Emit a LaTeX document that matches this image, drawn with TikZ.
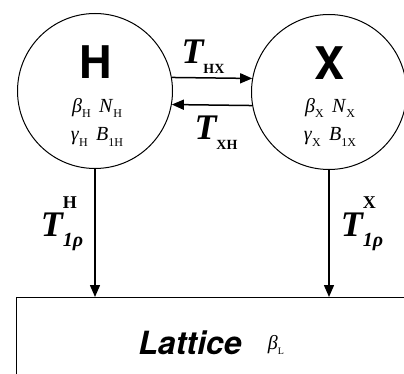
\documentclass[tikz,border=0pt]{standalone}
\usepackage{fontspec}
\setmainfont{Liberation Serif}
\newfontfamily\hvfont{TeX Gyre Heros}
\usetikzlibrary{arrows.meta}
% small lowered / raised index text
\newcommand{\lowix}[2][12]{\raisebox{-0.28em}{\fontsize{#1}{#1}\selectfont #2}}
\newcommand{\highix}[2][12]{\raisebox{0.78em}{\fontsize{#1}{#1}\selectfont #2}}

\begin{document}
\begin{tikzpicture}[x=1pt,y=-1pt,
    spin/.style={circle, draw, line width=1pt, minimum size=155pt, inner sep=0pt},
    flow/.style={line width=1.5pt, -{Triangle[length=12pt,width=10pt]}},
    bigsym/.style={font=\hvfont\bfseries\fontsize{45}{45}\selectfont},
    par/.style={font=\fontsize{20}{20}\selectfont},
    rate/.style={font=\bfseries\itshape\fontsize{36}{36}\selectfont}]
  \useasboundingbox (0,0) rectangle (404,374);
  \node[spin] (H) at (95,91) {};
  \node[spin] (X) at (329,92) {};
  \node[anchor=north west, draw, line width=1pt, minimum width=420pt,
        minimum height=120pt] (lat) at (16,297) {};
  % inside the spheres
  \node[bigsym] (Hsym) at (96,62) {H};
  \node[bigsym] (Xsym) at (330,63) {X};
  \node[par] (Hpar1) at (97,108) {\textit{β}\lowix{H}\, \textit{N}\lowix{H}};
  \node[par] (Hpar2) at (97,137) {\textit{γ}\lowix{H}\, \textit{B}\lowix{1H}};
  \node[par] (Xpar1) at (330,108) {\textit{β}\lowix{X}\, \textit{N}\lowix{X}};
  \node[par] (Xpar2) at (330,137) {\textit{γ}\lowix{X}\, \textit{B}\lowix{1X}};
  % exchange
  \draw[flow] (H.10) -- (X.170);
  \draw[flow] (X.190) -- (H.-10);
  \node[rate] (Thx) at (203,57) {T\lowix[14]{\upshape HX}};
  \node[rate] (Txh) at (216,133) {T\lowix[14]{\upshape XH}};
  % relaxation to the lattice
  \draw[flow] (H.south) -- (H.south |- lat.north);
  \draw[flow] (X.south) -- (X.south |- lat.north);
  \node[rate] (T1h) at (62,224) {T\rlap{\highix[18]{\upshape H}}\lowix[20]{1\textit{ρ}}};
  \node[rate] (T1x) at (362,224) {T\rlap{\highix[18]{\upshape X}}\lowix[20]{1\textit{ρ}}};
  \node[font=\hvfont\bfseries\itshape\fontsize{32}{32}\selectfont] (latlab) at (190,343) {Lattice};
  \node[par] (latpar) at (276,345) {\textit{β}\lowix[10]{L}};
\end{tikzpicture}
\end{document}
